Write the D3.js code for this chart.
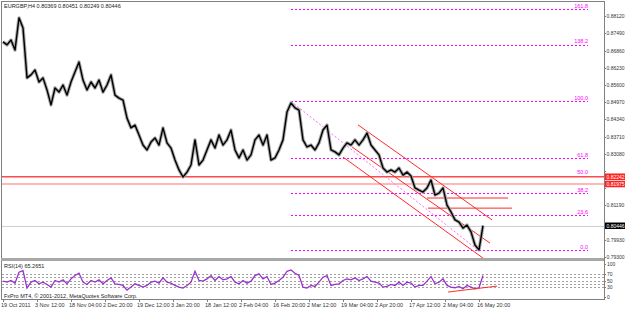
<!DOCTYPE html>
<html>
<head>
<meta charset="utf-8">
<script src="https://cdn.jsdelivr.net/npm/d3@7"></script>
<style>
body { margin: 0; background: #fff; }
svg { display: block; font-family: "Liberation Sans", Arial, sans-serif; }
</style>
</head>
<body>
<div id="chart"></div>
<script>
// EURGBP H4 closes, one reading every 4 bars
var closes = [
    0.8718, 0.8707, 0.8725, 0.8688, 0.8806, 0.8769, 0.8586, 0.8597, 0.8615, 0.8571,
    0.8586, 0.8542, 0.8487, 0.8549, 0.8534, 0.8560, 0.8523, 0.8571, 0.8608, 0.8644,
    0.8578, 0.8542, 0.8571, 0.8549, 0.8578, 0.8534, 0.8560, 0.8597, 0.8523, 0.8512,
    0.8505, 0.8439, 0.8403, 0.8413, 0.8377, 0.8340, 0.8322, 0.8351, 0.8366, 0.8340,
    0.8403, 0.8348, 0.8329, 0.8285, 0.8249, 0.8223, 0.8241, 0.8267, 0.8359, 0.8267,
    0.8285, 0.8322, 0.8359, 0.8329, 0.8377, 0.8340, 0.8359, 0.8395, 0.8322, 0.8293,
    0.8322, 0.8285, 0.8304, 0.8359, 0.8377, 0.8340, 0.8377, 0.8285, 0.8293, 0.8322,
    0.8359, 0.8461, 0.8494, 0.8476, 0.8468, 0.8359, 0.8333, 0.8340, 0.8322, 0.8348,
    0.8395, 0.8413, 0.8322, 0.8315, 0.8304, 0.8329, 0.8348, 0.8340, 0.8359, 0.8340,
    0.8359, 0.8384, 0.8340, 0.8322, 0.8304, 0.8256, 0.8241, 0.8249, 0.8241, 0.8256,
    0.8230, 0.8241, 0.8227, 0.8183, 0.8175, 0.8168, 0.8183, 0.8212, 0.8157, 0.8164,
    0.8183, 0.8120, 0.8095, 0.8066, 0.8058, 0.8036, 0.8047, 0.8022, 0.7974, 0.7956,
    0.8045
];
var rsi = [
    48, 45, 50, 42, 75, 80, 27, 45, 50, 40,
    45, 38, 30, 50, 45, 52, 40, 55, 65, 72,
    45, 38, 50, 45, 52, 40, 50, 58, 40, 38,
    35, 21, 30, 40, 35, 30, 35, 45, 48, 42,
    58, 45, 42, 35, 30, 27, 35, 45, 78, 50,
    48, 55, 65, 50, 62, 52, 55, 62, 45, 40,
    50, 42, 48, 65, 70, 55, 62, 38, 42, 50,
    60, 78, 82, 72, 65, 30, 27, 35, 32, 45,
    60, 65, 35, 38, 40, 50, 55, 52, 58, 50,
    55, 62, 48, 45, 42, 30, 32, 38, 35, 45,
    35, 45, 42, 30, 35, 35, 48, 62, 40, 45,
    55, 35, 30, 28, 32, 25, 35, 30, 25, 28,
    65
];
var timeLabels = ["19 Oct 2011", "3 Nov 12:00", "18 Nov 04:00", "2 Dec 20:00", "19 Dec 12:00",
    "3 Jan 20:00", "18 Jan 12:00", "2 Feb 04:00", "16 Feb 20:00", "2 Mar 12:00",
    "19 Mar 04:00", "2 Apr 20:00", "17 Apr 12:00", "2 May 04:00", "16 May 20:00"];
var timeTickIdx = [0, 8.5, 17, 25.5, 34, 42.5, 51, 59.5, 68, 76.5, 85, 93.5, 102, 110.5, 119];
var priceTicks = [0.79300, 0.79930, 0.80560, 0.81190, 0.81820, 0.82450, 0.83080, 0.83710,
    0.84340, 0.84970, 0.85600, 0.86230, 0.86860, 0.87490, 0.88120];
var fibLevels = [0.0, 23.6, 38.2, 50.0, 61.8, 100.0, 138.2, 161.8];
var fibHigh = 0.8500, fibLow = 0.7955;
var fibIdx = [72, 118.75, 146.25];
var redLevels = [0.82242, 0.81975];
var channels = [
    [[88.75, 0.8414], [122.25, 0.8066]],
    [[87.25, 0.8333], [121.75, 0.7981]],
    [[85, 0.8296], [120, 0.7926]]
];
var shortLines = [[[106, 0.8146], [126.25, 0.8146]], [[106.25, 0.8109], [127.25, 0.8109]]];
var rsiLevels = [30, 40, 50, 60, 70];
var rsiLabels = [100, 70, 50, 30, 0];
var rsiTrend = [[111.25, 15], [123.5, 33]];
var lastPrice = 0.80446;

var width = 625, height = 309;
var x = d3.scaleLinear().domain([0, 150]).range([3, 603]);
var y = d3.scaleLinear().domain([0.7930, 0.8812]).range([257, 16.2]);
var yr = d3.scaleLinear().domain([0, 100]).range([297, 264]);
var py = function (v) { return Math.round(y(v)) + 0.5; };

var svg = d3.select("#chart").append("svg")
    .attr("width", width).attr("height", height);

var defs = svg.append("defs");
defs.append("clipPath").attr("id", "clipMain")
    .append("rect").attr("x", 2).attr("y", 2).attr("width", 602).attr("height", 256);
defs.append("clipPath").attr("id", "clipRsi")
    .append("rect").attr("x", 2).attr("y", 262).attr("width", 602).attr("height", 37);

var main = svg.append("g").attr("clip-path", "url(#clipMain)");
var sub = svg.append("g").attr("clip-path", "url(#clipRsi)");

// fibonacci levels
var fibPrice = function (l) { return fibLow + (fibHigh - fibLow) * l / 100; };
main.append("g").selectAll("line").data(fibLevels).enter().append("line")
    .attr("x1", x(fibIdx[0])).attr("x2", x(fibIdx[2]))
    .attr("y1", function (d) { return py(fibPrice(d)); })
    .attr("y2", function (d) { return py(fibPrice(d)); })
    .attr("shape-rendering", "crispEdges")
    .style("stroke", "#ff00ff").style("stroke-dasharray", "2,2");
main.append("g").selectAll("text").data(fibLevels).enter().append("text")
    .attr("x", x(fibIdx[2])).attr("y", function (d) { return y(fibPrice(d)) - 1.5; })
    .attr("text-anchor", "end").attr("font-size", 5.5).style("fill", "#ff00ff")
    .text(function (d) { return d.toFixed(1); });
main.append("line")
    .attr("x1", x(fibIdx[0])).attr("y1", y(fibHigh))
    .attr("x2", x(fibIdx[1])).attr("y2", y(fibLow))
    .style("stroke", "#ff66ff").style("stroke-dasharray", "2,2");

// horizontal levels
main.append("g").selectAll("line").data(redLevels).enter().append("line")
    .attr("x1", 2).attr("x2", 604)
    .attr("y1", function (d) { return y(d); }).attr("y2", function (d) { return y(d); })
    .style("stroke", function (d, i) { return i == 0 ? "#ff4a4a" : "#ffa0a0"; })
    .attr("stroke-width", 1.6);
main.append("line").attr("x1", 2).attr("x2", 604)
    .attr("y1", py(lastPrice)).attr("y2", py(lastPrice))
    .style("stroke", "#cfcfcf");

// channel and short lines
var seg = d3.line().x(function (d) { return x(d[0]); }).y(function (d) { return y(d[1]); });
main.append("g").selectAll("path").data(channels.concat(shortLines)).enter().append("path")
    .attr("d", seg).attr("fill", "none").style("stroke", "#ff2a2a").attr("stroke-width", 1);

// price
var priceLine = d3.line().x(function (d, i) { return x(i); }).y(function (d) { return y(d); });
main.append("path").datum(closes).attr("d", priceLine)
    .attr("fill", "none").style("stroke", "#a8a8a8").attr("stroke-width", 3.4)
    .attr("stroke-linejoin", "round");
main.append("path").datum(closes).attr("d", priceLine)
    .attr("fill", "none").style("stroke", "#000").attr("stroke-width", 1.4)
    .attr("stroke-linejoin", "round");

// RSI
sub.append("g").selectAll("line").data(rsiLevels).enter().append("line")
    .attr("x1", 2).attr("x2", 604)
    .attr("y1", function (d) { return Math.round(yr(d)) + 0.5; })
    .attr("y2", function (d) { return Math.round(yr(d)) + 0.5; })
    .attr("shape-rendering", "crispEdges")
    .style("stroke", "#a0a0a0").style("stroke-dasharray", "2,2");
sub.append("path").datum(rsi)
    .attr("d", d3.line().x(function (d, i) { return x(i); }).y(function (d) { return yr(d); }))
    .attr("fill", "none").style("stroke", "#9932cc").attr("stroke-width", 1.3);
sub.append("path").datum(rsiTrend)
    .attr("d", d3.line().x(function (d) { return x(d[0]); }).y(function (d) { return yr(d[1]); }))
    .style("stroke", "#ff3030").attr("fill", "none");

// frames
svg.append("line").attr("x1", 1.5).attr("y1", 1).attr("x2", 1.5).attr("y2", 300).style("stroke", "#808080");
svg.append("line").attr("x1", 1).attr("y1", 1.5).attr("x2", 605).attr("y2", 1.5).style("stroke", "#808080");
svg.append("rect").attr("x", 1).attr("y", 258).attr("width", 604).attr("height", 3).style("fill", "#a8a8a8");
svg.append("line").attr("x1", 1).attr("y1", 299.5).attr("x2", 605).attr("y2", 299.5).style("stroke", "#808080");
svg.append("line").attr("x1", 604.5).attr("y1", 1).attr("x2", 604.5).attr("y2", 300).style("stroke", "#808080");

// price axis (labels hidden behind the price boxes are skipped)
var boxes = [[redLevels[0], "#ff2020"], [redLevels[1], "#ff2020"], [lastPrice, "#000"]];
var shown = priceTicks.filter(function (t) {
    return boxes.every(function (b) { return Math.abs(y(t) - y(b[0])) > 6; });
});
var pAxis = svg.append("g").attr("font-size", 5).style("fill", "#333");
pAxis.selectAll("line").data(priceTicks).enter().append("line")
    .attr("x1", 604).attr("x2", 606)
    .attr("y1", function (d) { return py(d); }).attr("y2", function (d) { return py(d); })
    .style("stroke", "#808080");
pAxis.selectAll("text").data(shown).enter().append("text")
    .attr("x", 606.5).attr("y", function (d) { return y(d) + 2; })
    .text(function (d) { return d.toFixed(5); });

// price boxes
var bx = svg.append("g").selectAll("g").data(boxes).enter().append("g");
bx.append("rect").attr("x", 605).attr("width", 20).attr("height", 6.5)
    .attr("y", function (d) { return y(d[0]) - 3.2; })
    .style("fill", function (d) { return d[1]; });
bx.append("text").attr("x", 606.5).attr("y", function (d) { return y(d[0]) + 1.9; })
    .attr("font-size", 5).style("fill", "#fff")
    .text(function (d) { return d[0].toFixed(5); });

// rsi axis
var rAxis = svg.append("g").attr("font-size", 5).style("fill", "#333");
rAxis.selectAll("text").data(rsiLabels).enter().append("text")
    .attr("x", 607).attr("y", function (d) { return yr(d) + 2; })
    .text(function (d) { return d; });
rAxis.selectAll("line").data(rsiLabels).enter().append("line")
    .attr("x1", 604).attr("x2", 606)
    .attr("y1", function (d) { return Math.round(yr(d)) + 0.5; })
    .attr("y2", function (d) { return Math.round(yr(d)) + 0.5; })
    .style("stroke", "#808080");

// time axis
var tAxis = svg.append("g").attr("font-size", 5.5).style("fill", "#333");
tAxis.selectAll("line").data(timeTickIdx).enter().append("line")
    .attr("x1", function (d) { return Math.round(x(d)) + 0.5; })
    .attr("x2", function (d) { return Math.round(x(d)) + 0.5; })
    .attr("y1", 300).attr("y2", 302).style("stroke", "#808080");
tAxis.selectAll("text").data(timeLabels).enter().append("text")
    .attr("x", function (d, i) { return x(timeTickIdx[i]) - 2; })
    .attr("y", 307)
    .text(function (d) { return d; });

// captions
svg.append("text").attr("x", 4).attr("y", 8).attr("font-size", 5.5).style("fill", "#222")
    .text("EURGBP,H4  0.80369 0.80451 0.80249 0.80446");
svg.append("text").attr("x", 4).attr("y", 268).attr("font-size", 5.5).style("fill", "#222")
    .text("RSI(14) 65.2651");
svg.append("text").attr("x", 4).attr("y", 298).attr("font-size", 5.5).style("fill", "#222")
    .text("FxPro MT4, \u00a9 2001-2012, MetaQuotes Software Corp.");
</script>
</body>
</html>
